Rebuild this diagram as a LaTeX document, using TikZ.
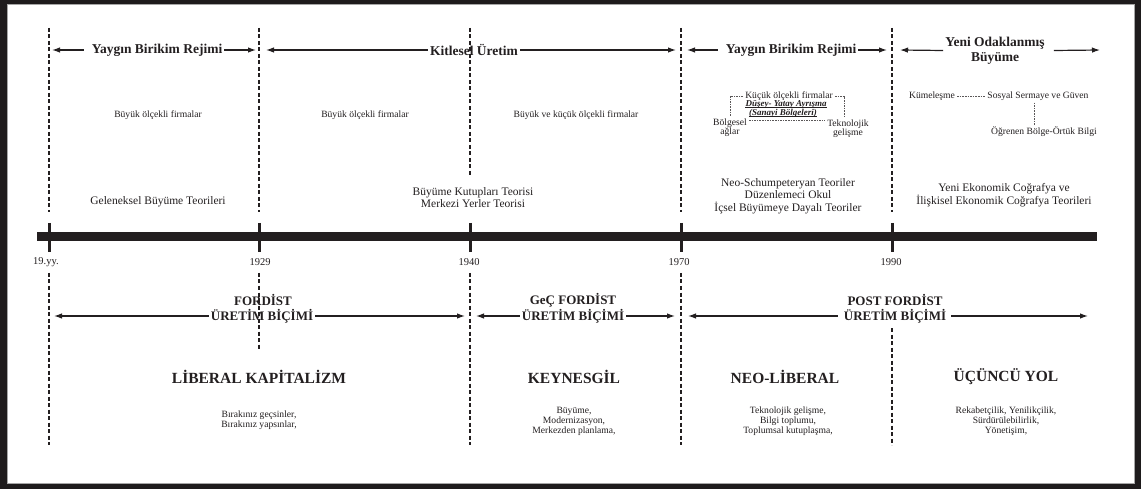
\documentclass[tikz,border=0pt]{standalone}
\usepackage{fontspec}
\setmainfont{Liberation Serif}
\usetikzlibrary{arrows.meta}
\definecolor{ink}{HTML}{231F20}
\definecolor{framecol}{HTML}{1E1B1C}
\begin{document}
\begin{tikzpicture}[x=1pt,y=-1pt,
  every node/.style={text=ink, inner sep=2pt},
  head/.style={font=\fontsize{13.5}{15}\selectfont\bfseries, align=center},
  era/.style={font=\fontsize{13}{16}\selectfont\bfseries},
  regime/.style={font=\fontsize{15.5}{18}\selectfont\bfseries},
  theory/.style={font=\fontsize{11.5}{12.7}\selectfont, align=center},
  small/.style={font=\fontsize{9.6}{9}\selectfont, align=center},
  policy/.style={font=\fontsize{9.6}{10}\selectfont, align=center},
  emph/.style={font=\fontsize{9}{8}\selectfont\bfseries\itshape},
  uline/.style={draw=ink, line width=0.5pt},
  year/.style={font=\fontsize{10.5}{12}\selectfont},
  arr/.style={draw=ink, line width=1.2pt, -{Latex[length=8pt,width=5.5pt]}},
  divider/.style={draw=ink, line width=1.2pt, dash pattern=on 4pt off 2.5pt},
  fine/.style={draw=ink!75, line width=0.45pt, dash pattern=on 1.6pt off 1pt},
  bar/.style={draw=ink, line width=9pt},
  tick/.style={draw=ink, line width=3pt}
]
\useasboundingbox (0,0) rectangle (1141,489);

% frame
\fill[framecol] (0,0) rectangle (1141,489);
\fill[white] (7,4) rectangle (1135,484);
\draw[black!35, line width=0.7pt] (7.35,4.35) rectangle (1134.65,483.65);

% time axis and year ticks
\coordinate (ax0) at (37,236.5);
\coordinate (ax1) at (1097,236.5);
\draw[bar] (ax0) -- (ax1);
\foreach \n/\x in {0/49,1/259,2/470,3/681,4/892}{
  \coordinate (tk\n a) at (\x,223);
  \coordinate (tk\n b) at (\x,252);
  \draw[tick] (tk\n a) -- (tk\n b);
}

% dashed period dividers, above the axis
\foreach \n/\x/\e in {0/49/212,1/259/212,2/470/177,3/681/212,4/892/212}{
  \coordinate (du\n a) at (\x,28);
  \coordinate (du\n b) at (\x,\e);
  \draw[divider] (du\n a) -- (du\n b);
}
% dashed period dividers, below the axis
\foreach \n/\x/\s/\e in {0/49/273/445,1/259/273/349,2/470/273/445,3/681/273/445,4/892/328/445}{
  \coordinate (dl\n a) at (\x,\s);
  \coordinate (dl\n b) at (\x,\e);
  \draw[divider] (dl\n a) -- (dl\n b);
}

% years
\node[year] (y0) at (46,262) {19.yy.};
\node[year] (y1) at (260,262) {1929};
\node[year] (y2) at (469,262) {1940};
\node[year] (y3) at (679,262) {1970};
\node[year] (y4) at (891,262) {1990};

% accumulation regimes (top row)
\coordinate (h1l) at (52,50);  \coordinate (h1r) at (256,50);
\coordinate (h2l) at (266,50); \coordinate (h2r) at (676,50);
\coordinate (h3l) at (687,50); \coordinate (h3r) at (887,50);
\coordinate (h4l) at (900,50); \coordinate (h4r) at (1100,50);
\node[head] (h1) at (157,50) {Yaygın Birikim Rejimi};
\node[head] (h2) at (474,50) {Kitlesel Üretim};
\node[head] (h3) at (791,50) {Yaygın Birikim Rejimi};
\node[head] (h4) at (995,50.5) {Yeni Odaklanmış\\Büyüme};
\draw[arr] ([xshift=-6pt]h1.west) -- (h1l);
\draw[arr] (h1.east) -- (h1r);
\draw[arr] (h2.west) -- (h2l);
\draw[arr] (h2.east) -- (h2r);
\draw[arr] ([xshift=-6pt]h3.west) -- (h3l);
\draw[arr] (h3.east) -- (h3r);
\draw[arr] (h4.west) -- (h4l);
\draw[arr] ([xshift=7pt]h4.east) -- (h4r);

% firm structures
\node[small] (f1) at (158,115) {Büyük ölçekli firmalar};
\node[small] (f2) at (365,115) {Büyük ölçekli firmalar};
\node[small] (f3) at (576,115) {Büyük ve küçük ölçekli firmalar};

% flexible specialisation cluster
\node[small] (kof) at (789,96) {Küçük ölçekli firmalar};
\node[emph] (dya) at (786,104.5) {Düşey- Yatay Ayrışma};
\node[emph] (snb) at (783,113.5) {(Sanayi Bölgeleri)};
\draw[uline] ([xshift=2pt,yshift=-1pt]dya.base west) -- ([xshift=-2pt,yshift=-1pt]dya.base east);
\draw[uline] ([xshift=2pt,yshift=-1pt]snb.base west) -- ([xshift=-2pt,yshift=-1pt]snb.base east);
\node[small] (bol) at (730,127.5) {Bölgesel\\ağlar};
\node[small] (tek) at (848,128.5) {Teknolojik\\gelişme};
\coordinate (hy) at (0,120);
\draw[fine] (kof.west) -| (bol.north);
\draw[fine] (kof.east) -| ([xshift=-4pt]tek.north);
\draw[fine] (bol.east |- hy) -- (tek.west |- hy);

% new regionalism cluster
\node[small] (kum) at (932,96) {Kümeleşme};
\node[small] (ssg) at (1038,96) {Sosyal Sermaye ve Güven};
\node[small] (obg) at (1044,132) {Öğrenen Bölge-Örtük Bilgi};
\coordinate (vx) at (1034,0);
\draw[fine] (kum) -- (ssg);
\draw[fine] (ssg.south -| vx) -- (obg.north -| vx);

% growth theories
\node[theory] (th1) at (158,202) {Geleneksel Büyüme Teorileri};
\node[theory] (th2) at (473,197.5) {Büyüme Kutupları Teorisi\\Merkezi Yerler Teorisi};
\node[theory] (th3) at (788,196) {Neo-Schumpeteryan Teoriler\\Düzenlemeci Okul\\İçsel Büyümeye Dayalı Teoriler};
\node[theory] (th4) at (1004,195.5) {Yeni Ekonomik Coğrafya ve\\İlişkisel Ekonomik Coğrafya Teorileri};

% production modes (bottom arrows)
\coordinate (e1l) at (54,316);  \coordinate (e1r) at (465,316);
\coordinate (e2l) at (476,316); \coordinate (e2r) at (675,316);
\coordinate (e3l) at (688,316); \coordinate (e3r) at (1088,316);
\node[era] (e1a) at (263,300) {FORDİST};
\node[era] (e1b) at (262,316) {ÜRETİM BİÇİMİ};
\node[era] (e2a) at (573,300) {GeÇ FORDİST};
\node[era] (e2b) at (573,316) {ÜRETİM BİÇİMİ};
\node[era] (e3a) at (895,300) {POST FORDİST};
\node[era] (e3b) at (895,316) {ÜRETİM BİÇİMİ};
\draw[arr] (e1b.west) -- (e1l);
\draw[arr] (e1b.east) -- (e1r);
\draw[arr] (e2b.west) -- (e2l);
\draw[arr] (e2b.east) -- (e2r);
\draw[arr] ([xshift=-4pt]e3b.west) -- (e3l);
\draw[arr] ([xshift=3pt]e3b.east) -- (e3r);

% political-economic regimes
\node[regime] (r1) at (259,377) {LİBERAL KAPİTALİZM};
\node[regime] (r2) at (574,377) {KEYNESGİL};
\node[regime] (r3) at (785,377) {NEO-LİBERAL};
\node[regime] (r4) at (1006,377) {ÜÇÜNCÜ YOL};

\node[policy] (p1) at (259,420) {Bırakınız geçsinler,\\Bırakınız yapsınlar,};
\node[policy] (p2) at (574,421) {Büyüme,\\Modernizasyon,\\Merkezden planlama,};
\node[policy] (p3) at (788,421) {Teknolojik gelişme,\\Bilgi toplumu,\\Toplumsal kutuplaşma,};
\node[policy] (p4) at (1006,421) {Rekabetçilik, Yenilikçilik,\\Sürdürülebilirlik,\\Yönetişim,};
\end{tikzpicture}
\end{document}
